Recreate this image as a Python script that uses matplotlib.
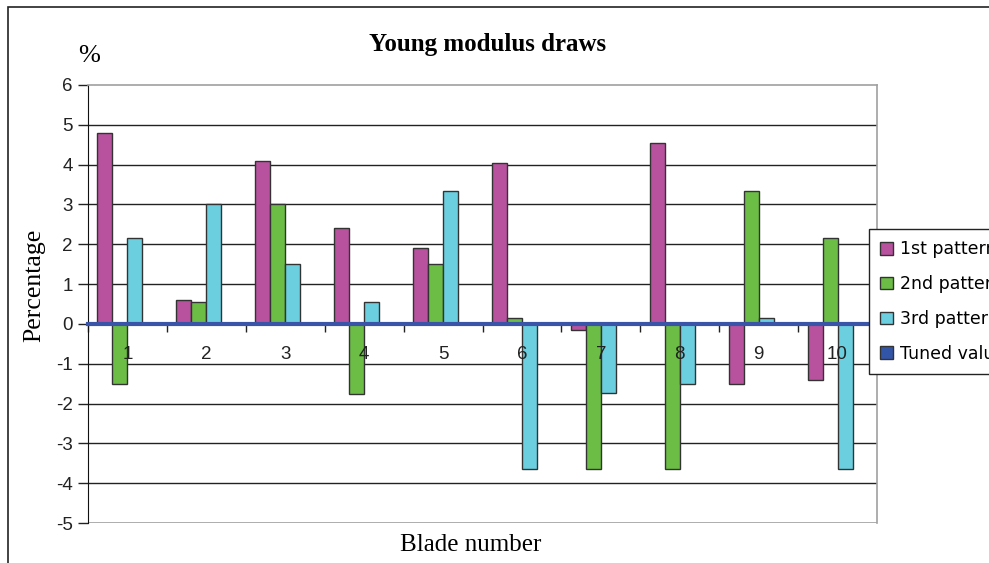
import numpy as np
import matplotlib.pyplot as plt
from matplotlib.patches import Rectangle

plt.rcParams['axes.unicode_minus'] = False

# data
blades = ['1', '2', '3', '4', '5', '6', '7', '8', '9', '10']
first_pattern = [4.8, 0.6, 4.1, 2.4, 1.9, 4.05, -0.15, 4.55, -1.5, -1.4]
second_pattern = [-1.5, 0.55, 3.0, -1.75, 1.5, 0.15, -3.65, -3.65, 3.35, 2.15]
third_pattern = [2.15, 3.0, 1.5, 0.55, 3.35, -3.65, -1.73, -1.5, 0.15, -3.65]
tuned_value = [0, 0, 0, 0, 0, 0, 0, 0, 0, 0]
series_names = ['1st pattern', '2nd pattern', '3rd pattern', 'Tuned value']

colors = ['#b8529e', '#6bbd45', '#6ccfe0', '#3355a8']
sans = 'Liberation Sans'
serif = 'Liberation Serif'

fig = plt.figure(figsize=(9.89, 5.63), dpi=100)
ax = fig.add_axes([88 / 989, 40 / 563, 789 / 989, 438 / 563])

x = np.arange(len(blades))
w = 0.19
all_series = [first_pattern, second_pattern, third_pattern, tuned_value]
for i, (vals, name, c) in enumerate(zip(all_series, series_names, colors)):
    ax.bar(x + (i - 1.5) * w, vals, w, color=c, edgecolor='#333333',
           linewidth=1, label=name, zorder=1)

ax.set_xlim(-0.5, len(blades) - 0.5)
ax.set_ylim(-5, 6)
ax.set_yticks(range(-5, 7))
ax.tick_params(axis='y', direction='out', length=7, width=1, pad=4,
               labelsize=13.5, labelfontfamily=sans, colors='#222222')

# gridlines
for yv in range(-4, 6):
    if yv != 0:
        ax.axhline(yv, color='#222222', lw=1, zorder=0.5)
ax.axhline(-5, color='#a0a0a0', lw=1.2, zorder=0.5)

# x axis sits on zero, labels under it (drawn over the bars)
ax.spines['bottom'].set_position(('data', 0))
ax.spines['bottom'].set_color('#3a55a8')
ax.spines['bottom'].set_linewidth(3)
ax.spines['bottom'].set_zorder(3)
ax.spines['left'].set_color('#111111')
ax.spines['top'].set_color('#a0a0a0')
ax.spines['right'].set_color('#a0a0a0')
ax.spines['top'].set_linewidth(1.2)
ax.spines['right'].set_linewidth(1.2)
ax.set_xticks(x)
ax.set_xticklabels(blades)
ax.set_xticks(np.arange(-0.5, len(blades)), minor=True)
ax.tick_params(axis='x', which='major', length=0, pad=16, labelsize=13.5,
               labelfontfamily=sans, colors='#222222')
ax.tick_params(axis='x', which='minor', direction='out', length=6, width=1,
               color='#222222')
ax.xaxis.set_zorder(2)

fig.text(488 / 989, 1 - 45 / 563, 'Young modulus draws', ha='center',
         va='center', fontsize=18, fontweight='bold', family=serif)
fig.text(34 / 989, 1 - 285 / 563, 'Percentage', rotation=90, ha='center',
         va='center', fontsize=18.5, family=serif)
fig.text(89 / 989, 1 - 56 / 563, '%', ha='center', va='center',
         fontsize=19, family=serif)
fig.text(471 / 989, 1 - 545 / 563, 'Blade number', ha='center',
         va='center', fontsize=18, family=serif)

# legend runs past the right edge, as in the reference
leg = fig.legend(loc='upper left', bbox_to_anchor=(869 / 989, 1 - 229 / 563),
                 prop={'family': 'DejaVu Sans', 'size': 12.5}, fancybox=False,
                 edgecolor='#222222', framealpha=1, handlelength=0.75,
                 handleheight=0.75, handletextpad=0.4, labelspacing=0.97,
                 borderpad=0.65, borderaxespad=0)
leg.get_frame().set_linewidth(1)

# chart area border
fig.patches.append(Rectangle((8 / 989, -0.1), 1.2, 1.1 - 7 / 563,
                             transform=fig.transFigure, fill=False,
                             edgecolor='#222222', lw=1.2))

fig.savefig('out.png', dpi=100)
